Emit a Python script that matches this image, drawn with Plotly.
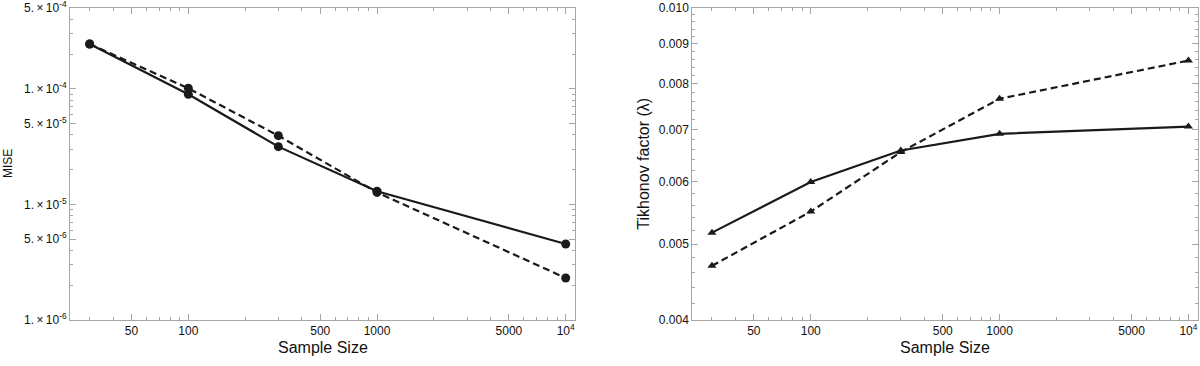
import numpy as np
import plotly.graph_objects as go

# ---------------- data ----------------
sample_sizes = [30, 100, 300, 1000, 10000]
mise_solid = [2.44e-4, 8.96e-5, 3.16e-5, 1.30e-5, 4.54e-6]
mise_dashed = [2.44e-4, 1.01e-4, 3.93e-5, 1.27e-5, 2.31e-6]
lam_solid = [0.00517, 0.00600, 0.00658, 0.00691, 0.00706]
lam_dashed = [0.00469, 0.00550, 0.00655, 0.00766, 0.00857]

x_tickvals = [50, 100, 500, 1000, 5000, 10000]
x_ticktext = ["50", "100", "500", "1000", "5000", "10<sup>4</sup>"]
mise_tickvals = [5e-4, 1e-4, 5e-5, 1e-5, 5e-6, 1e-6]
mise_ticktext = ["5.\u2009\u00d7\u200910<sup>-4</sup>", "1.\u2009\u00d7\u200910<sup>-4</sup>",
                 "5.\u2009\u00d7\u200910<sup>-5</sup>", "1.\u2009\u00d7\u200910<sup>-5</sup>",
                 "5.\u2009\u00d7\u200910<sup>-6</sup>", "1.\u2009\u00d7\u200910<sup>-6</sup>"]
lam_tickvals = [0.004, 0.005, 0.006, 0.007, 0.008, 0.009, 0.010]
lam_ticktext = ["0.004", "0.005", "0.006", "0.007", "0.008", "0.009", "0.010"]

# minor tick positions (log decades)
def log_minor(lo_exp, hi_exp, majors):
    vals = []
    for e in range(lo_exp, hi_exp + 1):
        for m in range(1, 10):
            v = m * 10.0 ** e
            if not any(abs(v - t) / t < 1e-9 for t in majors):
                vals.append(v)
    return vals

x_minor = log_minor(1, 4, x_tickvals)
mise_minor = log_minor(-6, -4, mise_tickvals)
lam_minor = [round(0.004 + 0.0002 * i, 5) for i in range(31)]
lam_minor = [v for v in lam_minor if not any(abs(v - t) < 1e-9 for t in lam_tickvals)]

FONT = "Liberation Sans, Arial, sans-serif"
LINE_COL = "#1a1a1a"
FRAME_COL = "#a6a6a6"

fig = go.Figure()

fig.add_trace(go.Scatter(x=sample_sizes, y=mise_solid, mode="lines+markers",
                         line=dict(color=LINE_COL, width=2.2),
                         marker=dict(symbol="circle", size=9, color=LINE_COL),
                         xaxis="x", yaxis="y", showlegend=False))
fig.add_trace(go.Scatter(x=sample_sizes, y=mise_dashed, mode="lines+markers",
                         line=dict(color=LINE_COL, width=2.2, dash="7px,4px"),
                         marker=dict(symbol="circle", size=9, color=LINE_COL),
                         xaxis="x", yaxis="y", showlegend=False))
fig.add_trace(go.Scatter(x=sample_sizes, y=lam_solid, mode="lines+markers",
                         line=dict(color=LINE_COL, width=2.2),
                         marker=dict(symbol="triangle-up", size=8, color=LINE_COL),
                         xaxis="x2", yaxis="y2", showlegend=False))
fig.add_trace(go.Scatter(x=sample_sizes, y=lam_dashed, mode="lines+markers",
                         line=dict(color=LINE_COL, width=2.2, dash="7px,4px"),
                         marker=dict(symbol="triangle-up", size=8, color=LINE_COL),
                         xaxis="x2", yaxis="y2", showlegend=False))

W, H = 1200, 366
L1, R1 = 70, 575
L2, R2 = 692.3, 1197.7
T, B = 8, 320

def ax_common():
    return dict(showline=True, linecolor=FRAME_COL, linewidth=1, mirror="allticks",
                ticks="inside", ticklen=6, tickcolor=FRAME_COL, tickwidth=1,
                showgrid=False, zeroline=False, automargin=False,
                ticklabeloverflow="allow",
                tickfont=dict(family=FONT, size=12, color="#111"))

xr = [np.log10(23.6), np.log10(11200)]
fig.update_layout(
    width=W, height=H,
    margin=dict(l=0, r=0, t=0, b=0, pad=0, autoexpand=False),
    paper_bgcolor="white", plot_bgcolor="white",
    xaxis=dict(domain=[L1 / W, R1 / W], anchor="y", type="log", range=xr,
               tickmode="array", tickvals=x_tickvals, ticktext=x_ticktext,
               minor=dict(tickmode="array", tickvals=x_minor, ticks="inside",
                          ticklen=3, tickcolor=FRAME_COL, showgrid=False),
               **ax_common()),
    yaxis=dict(domain=[1 - B / H, 1 - T / H], anchor="x", type="log",
               range=[-6, np.log10(5e-4)],
               tickmode="array", tickvals=mise_tickvals, ticktext=mise_ticktext,
               minor=dict(tickmode="array", tickvals=mise_minor, ticks="inside",
                          ticklen=3, tickcolor=FRAME_COL, showgrid=False),
               **ax_common()),
    xaxis2=dict(domain=[L2 / W, R2 / W], anchor="y2", type="log", range=xr,
                tickmode="array", tickvals=x_tickvals, ticktext=x_ticktext,
                minor=dict(tickmode="array", tickvals=x_minor, ticks="inside",
                           ticklen=3, tickcolor=FRAME_COL, showgrid=False),
                **ax_common()),
    yaxis2=dict(domain=[1 - B / H, 1 - T / H], anchor="x2", type="log",
                range=[np.log10(0.004), -2],
                tickmode="array", tickvals=lam_tickvals, ticktext=lam_ticktext,
                minor=dict(tickmode="array", tickvals=lam_minor, ticks="inside",
                           ticklen=3, tickcolor=FRAME_COL, showgrid=False),
                **ax_common()),
)

ann_font = dict(family=FONT, size=16, color="#111")
fig.add_annotation(text="Sample Size", x=(L1 + R1) / 2 / W, y=1 - 347 / H,
                   xref="paper", yref="paper", showarrow=False, font=ann_font,
                   xanchor="center", yanchor="middle")
fig.add_annotation(text="Sample Size", x=(L2 + R2) / 2 / W, y=1 - 347 / H,
                   xref="paper", yref="paper", showarrow=False, font=ann_font,
                   xanchor="center", yanchor="middle")
fig.add_annotation(text="MISE", x=8 / W, y=1 - 164 / H, textangle=-90,
                   xref="paper", yref="paper", showarrow=False,
                   font=dict(family=FONT, size=12, color="#111"),
                   xanchor="center", yanchor="middle")
fig.add_annotation(text="Tikhonov factor (\u03bb)", x=642.7 / W, y=1 - 164 / H, textangle=-90,
                   xref="paper", yref="paper", showarrow=False, font=ann_font,
                   xanchor="center", yanchor="middle")

fig.write_html("out.html", config={"responsive": False, "displayModeBar": False},
               post_script="document.body.style.margin='0';")
